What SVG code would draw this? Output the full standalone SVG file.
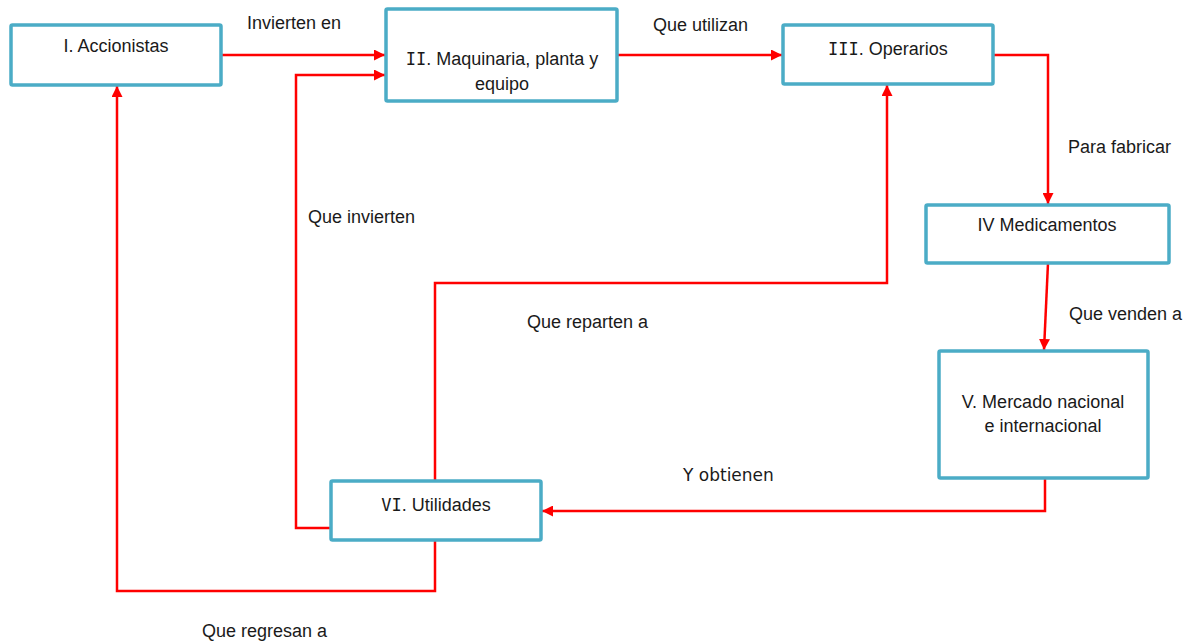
<svg xmlns="http://www.w3.org/2000/svg" width="1189" height="641" viewBox="0 0 1189 641">
  <style>
    .box { fill: #ffffff; stroke: #4bacc6; stroke-width: 3.5; }
    .lbl { font-family: "Liberation Sans", Arial, sans-serif; font-size: 18px; fill: #1a1a1a; }
    .num { font-family: "DejaVu Sans Mono", monospace; font-size: 17px; }
    .hand { font-family: "DejaVu Sans", sans-serif; font-size: 17px; fill: #1a1a1a; }
    .wire { fill: none; stroke: #ff0000; stroke-width: 2.5; stroke-linejoin: miter; }
  </style>
  <defs>
    <marker id="arrow" viewBox="0 0 10 10" refX="10" refY="5" markerWidth="4.4" markerHeight="4.4" markerUnits="strokeWidth" orient="auto">
      <path d="M0,0 L10,5 L0,10 Z" fill="#ff0000"/>
    </marker>
  </defs>

  <!-- flow connectors -->
  <g id="connectors">
    <path class="wire" d="M221,55 L385,55" marker-end="url(#arrow)"/>
    <path class="wire" d="M617,55 L782,55" marker-end="url(#arrow)"/>
    <path class="wire" d="M993,55 L1048,55 L1048,204" marker-end="url(#arrow)"/>
    <path class="wire" d="M1048,263 L1044,350" marker-end="url(#arrow)"/>
    <path class="wire" d="M1045,478 L1045,511 L542,511" marker-end="url(#arrow)"/>
    <path class="wire" d="M435,481 L435,283 L887,283 L887,85" marker-end="url(#arrow)"/>
    <path class="wire" d="M331,528 L296,528 L296,75 L385,75" marker-end="url(#arrow)"/>
    <path class="wire" d="M435,540 L435,591 L117,591 L117,86" marker-end="url(#arrow)"/>
  </g>

  <g id="node-accionistas">
    <rect class="box" x="11" y="25" width="210" height="60" rx="1.5"/>
    <text class="lbl" x="116" y="52" text-anchor="middle">I. Accionistas</text>
  </g>

  <g id="node-maquinaria">
    <rect class="box" x="386" y="9" width="231" height="92" rx="1.5"/>
    <text class="lbl" x="502" y="65" text-anchor="middle"><tspan class="num">II</tspan>. Maquinaria, planta y</text>
    <text class="lbl" x="502" y="90" text-anchor="middle">equipo</text>
  </g>

  <g id="node-operarios">
    <rect class="box" x="783" y="25" width="210" height="59" rx="1.5"/>
    <text class="lbl" x="888" y="55" text-anchor="middle"><tspan class="num">III</tspan>. Operarios</text>
  </g>

  <g id="node-medicamentos">
    <rect class="box" x="926" y="205" width="243" height="58" rx="1.5"/>
    <text class="lbl" x="1047" y="231" text-anchor="middle">IV Medicamentos</text>
  </g>

  <g id="node-mercado">
    <rect class="box" x="939" y="351" width="209" height="127" rx="1.5"/>
    <text class="lbl" x="1043" y="408" text-anchor="middle">V. Mercado nacional</text>
    <text class="lbl" x="1043" y="432" text-anchor="middle">e internacional</text>
  </g>

  <g id="node-utilidades">
    <rect class="box" x="331" y="481" width="210" height="59" rx="1.5"/>
    <text class="lbl" x="436" y="511" text-anchor="middle"><tspan class="num">VI</tspan>. Utilidades</text>
  </g>

  <!-- connector captions -->
  <g id="captions">
    <text class="lbl" x="247" y="29">Invierten en</text>
    <text class="lbl" x="653" y="31">Que utilizan</text>
    <text class="lbl" x="1068" y="153">Para fabricar</text>
    <text class="lbl" x="308" y="223">Que invierten</text>
    <text class="lbl" x="527" y="328">Que reparten a</text>
    <text class="lbl" x="1069" y="320">Que venden a</text>
    <text class="hand" x="683" y="481">Y obtienen</text>
    <text class="lbl" x="202" y="637">Que regresan a</text>
  </g>
</svg>
